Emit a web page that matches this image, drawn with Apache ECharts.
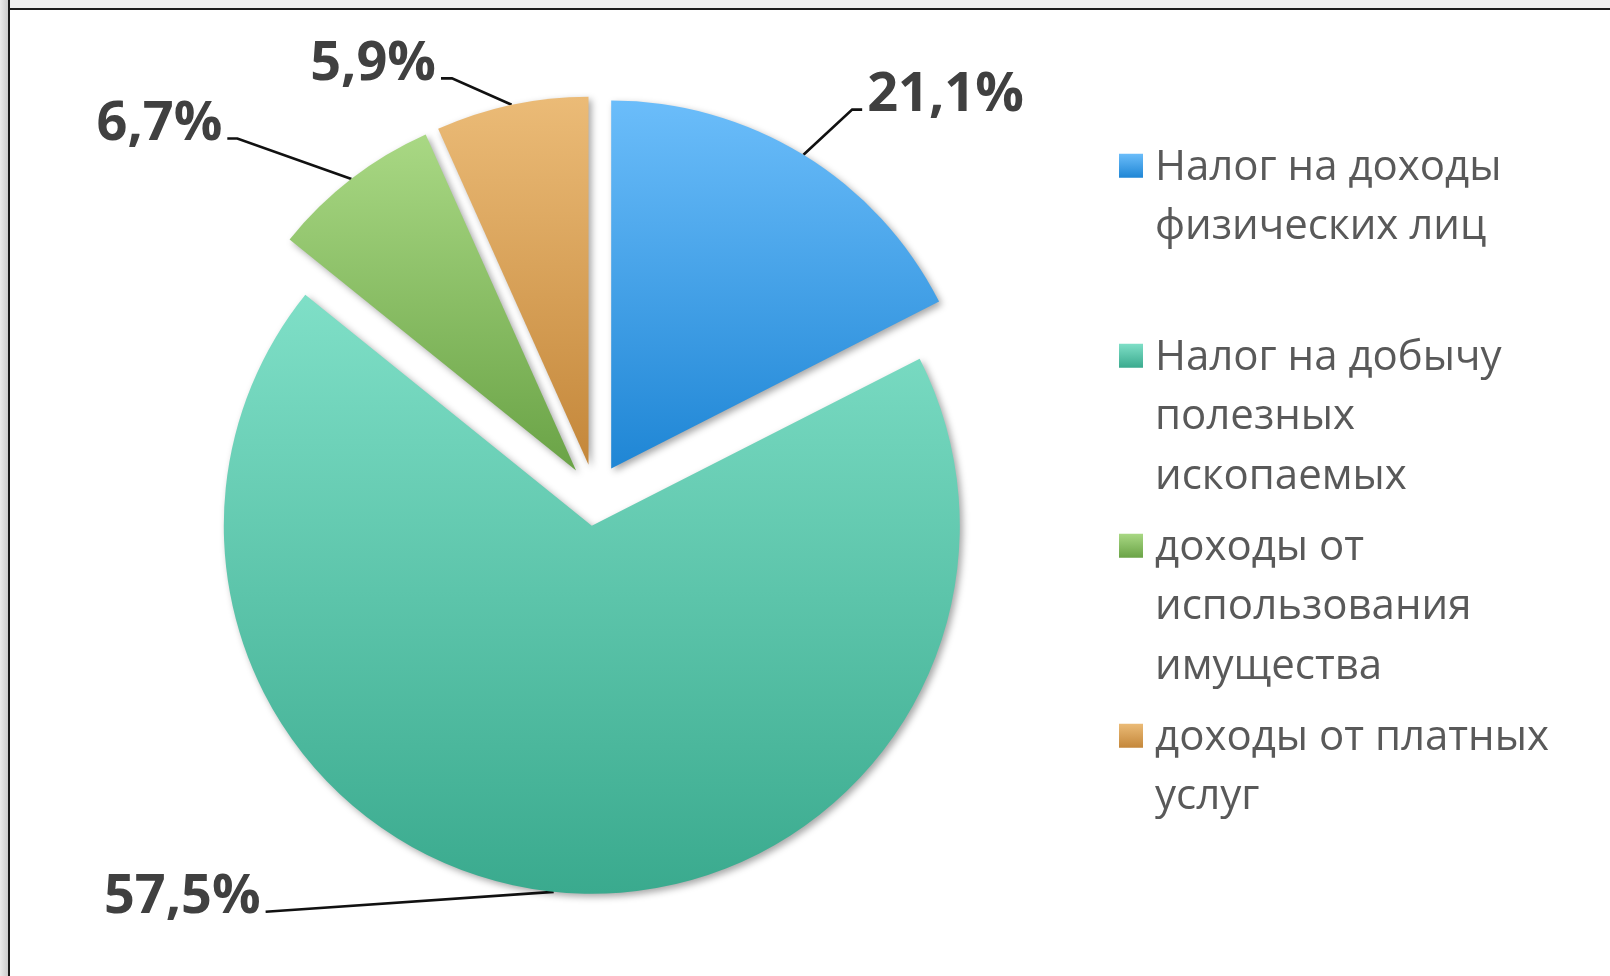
<!DOCTYPE html>
<html>
<head>
<meta charset="utf-8">
<script src="https://cdn.jsdelivr.net/npm/echarts@6/dist/echarts.min.js"></script>
<style>
    html, body { margin: 0; padding: 0; background: #fff; }
    #chart { width: 1610px; height: 976px; }
    .edgeTop { position: absolute; left: 0; top: 0; width: 1610px; height: 8px; background: #efefef; border-bottom: 2px solid #1c1c1c; }
    .edgeLeft { position: absolute; left: 0; top: 0; width: 8px; height: 976px; background: linear-gradient(to right, #ececec, #cdcdcd); border-right: 2px solid #1c1c1c; }
</style>
</head>
<body>
<div id="chart"></div>
<div class="edgeTop"></div>
<div class="edgeLeft"></div>
<script>
// legend names, line breaks as in the picture
var categories = [
    'Налог на доходы\nфизических лиц',
    'Налог на добычу\nполезных\nископаемых',
    'доходы от\nиспользования\nимущества',
    'доходы от платных\nуслуг'
];
// labels printed on the chart
var percentLabels = ['21,1%', '57,5%', '6,7%', '5,9%'];
// share of the circle each slice takes in the picture (degrees / 3.6)
var sliceShares = [17.5, 68.3, 7.5, 6.7];

var topColors = ['#6bbdfa', '#7fdfc7', '#a9d884', '#ebbb77'];
var bottomColors = ['#1f86d5', '#3aaa8e', '#6aa346', '#c4873a'];
// label line: first leg, second leg, short flat end next to the text
var lineLengths = [[53, 31, 10], [20, 286, 0], [51, 93, 10], [27, 65, 11]];

function grad(i, a, b) {
    return new echarts.graphic.LinearGradient(0, 0, 0, 1, [
        { offset: a, color: topColors[i] },
        { offset: b, color: bottomColors[i] }
    ]);
}

var lineStyle = { color: '#111', width: 2.6 };

var myChart = echarts.init(document.getElementById('chart'));

var option = {
    backgroundColor: '#fff',
    animation: false,
    legend: {
        orient: 'vertical',
        left: 1114,
        top: 133,
        itemWidth: 31,
        itemHeight: 178.5,
        itemGap: 11.5,
        selectedMode: false,
        // small square at the first text line, tall invisible box for three lines
        icon: 'path://M0,0h0.01v0.01h-0.01z M0,15.75h24v24h-24z M30.99,178.49h0.01v0.01h-0.01z',
        formatter: function (name) {
            var n = name.split('\n').length;
            while (n < 3) { name += '\n'; n++; }
            return name;
        },
        textStyle: {
            fontFamily: 'Open Sans',
            fontSize: 42,
            lineHeight: 59.5,
            color: '#595959'
        },
        data: categories.map(function (c, i) {
            return { name: c, itemStyle: { color: grad(i, 0.088, 0.223) } };
        })
    },
    series: [{
        type: 'pie',
        center: [595, 495],
        radius: 368,
        startAngle: 90,
        clockwise: true,
        selectedMode: 'multiple',
        selectedOffset: 31,
        avoidLabelOverlap: false,
        emphasis: { disabled: true },
        itemStyle: {
            shadowBlur: 7,
            shadowOffsetX: 3,
            shadowOffsetY: 3,
            shadowColor: 'rgba(0,0,0,0.35)'
        },
        label: {
            show: true,
            position: 'outside',
            fontFamily: 'Open Sans',
            fontWeight: 'bold',
            fontSize: 54,
            lineHeight: 28,
            color: '#404040',
            distanceToLabelLine: 5,
            formatter: function (p) {
                return percentLabels[p.dataIndex] + '\n';
            }
        },
        labelLine: {
            show: true,
            lineStyle: lineStyle
        },
        labelLayout: function (params) {
            var pts = params.labelLinePoints;
            if (!pts || pts.length < 3) return {};
            var flat = lineLengths[params.dataIndex][2];
            var a = pts[0], c = pts[2];
            var s = a[0] > c[0] ? 1 : -1;
            return { labelLinePoints: [a, [c[0] + s * flat, c[1]], c] };
        },
        data: sliceShares.map(function (v, i) {
            return {
                name: categories[i],
                value: v,
                selected: true,
                itemStyle: { color: grad(i, 0, 1) },
                labelLine: { length: lineLengths[i][0], length2: lineLengths[i][1], lineStyle: lineStyle }
            };
        })
    }]
};

myChart.setOption(option);
</script>
</body>
</html>
